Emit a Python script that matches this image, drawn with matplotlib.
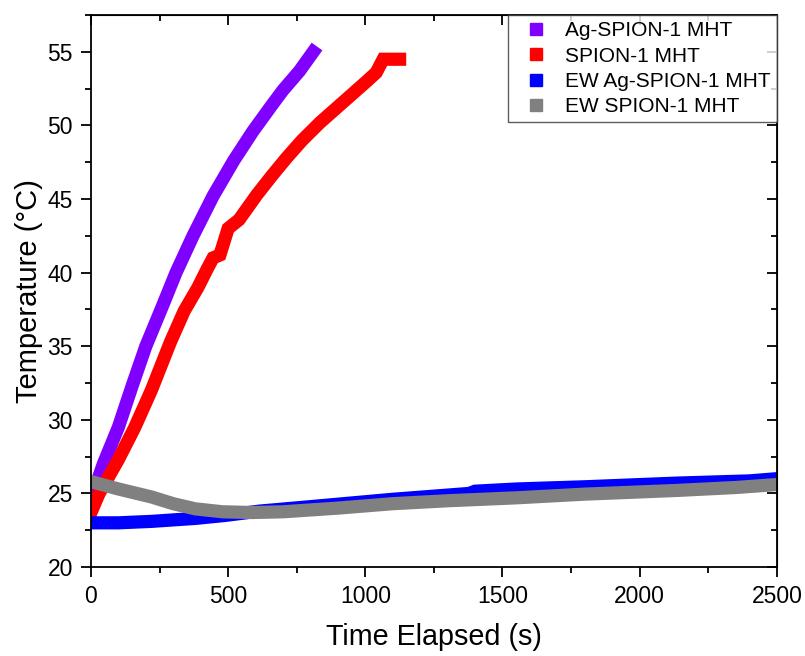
import matplotlib
matplotlib.use("Agg")
import matplotlib.pyplot as plt
from matplotlib.lines import Line2D
from matplotlib.ticker import MultipleLocator

plt.rcParams['font.family'] = ['Liberation Sans', 'DejaVu Sans']

# Heating curves (time in s, temperature in °C)
ag_t = [0, 45, 100, 150, 200, 260, 310, 372, 445, 520, 590, 660, 700, 760, 810]
ag_T = [24.6, 27.0, 29.5, 32.3, 35.0, 37.7, 40.0, 42.5, 45.2, 47.6, 49.6, 51.4, 52.4, 53.7, 55.0]

sp_t = [0, 30, 100, 160, 220, 290, 340, 390, 425, 445, 470, 500, 540, 605, 660,
        713, 770, 835, 920, 1005, 1040, 1065, 1125]
sp_T = [23.7, 25.0, 27.3, 29.5, 32.0, 35.3, 37.4, 39.0, 40.3, 41.0, 41.2, 43.0, 43.6,
        45.3, 46.6, 47.8, 49.0, 50.2, 51.6, 53.0, 53.6, 54.5, 54.5]

ew_ag_t = [0, 100, 222, 380, 488, 616, 800, 1100, 1380, 1400, 1552, 1800, 2135, 2400, 2500]
ew_ag_T = [23.0, 23.0, 23.1, 23.3, 23.5, 23.8, 24.1, 24.6, 25.0, 25.15, 25.3, 25.45, 25.7, 25.85, 26.0]

ew_sp_t = [0, 100, 222, 300, 380, 480, 587, 700, 900, 1100, 1300, 1552, 1800, 2135, 2350, 2500]
ew_sp_T = [25.8, 25.3, 24.75, 24.3, 23.95, 23.75, 23.7, 23.75, 24.0, 24.3, 24.5, 24.7,
           24.95, 25.2, 25.4, 25.6]

labels = ["Ag-SPION-1 MHT", "SPION-1 MHT", "EW Ag-SPION-1 MHT", "EW SPION-1 MHT"]
colors = ["#8000FF", "#FF0000", "#0000FF", "#808080"]

fig = plt.figure(figsize=(8.05, 6.56), dpi=100)
ax = fig.add_axes([0.113, 0.1357, 0.852, 0.8413])

series = [(ag_t, ag_T), (sp_t, sp_T), (ew_ag_t, ew_ag_T), (ew_sp_t, ew_sp_T)]
for (t, T), c in zip(series, colors):
    ax.plot(t, T, color=c, lw=9.5, solid_capstyle='projecting', solid_joinstyle='miter')

ax.set_xlim(0, 2500)
ax.set_ylim(20, 57.5)
ax.xaxis.set_major_locator(MultipleLocator(500))
ax.xaxis.set_minor_locator(MultipleLocator(250))
ax.yaxis.set_major_locator(MultipleLocator(5))
ax.yaxis.set_minor_locator(MultipleLocator(2.5))

for s in ax.spines.values():
    s.set_linewidth(1.3)

ax.tick_params(which='both', direction='out', width=1.3, labelsize=16.5,
               top=False, right=False, pad=6)
ax.tick_params(which='major', length=7)
ax.tick_params(which='minor', length=4)

# Inward ticks mirrored on the top and right axes
axt = ax.secondary_xaxis('top')
axt.xaxis.set_major_locator(MultipleLocator(500))
axt.xaxis.set_minor_locator(MultipleLocator(250))
axt.tick_params(which='both', direction='in', width=1.3, labeltop=False)
axt.tick_params(which='major', length=7)
axt.tick_params(which='minor', length=4)
axr = ax.secondary_yaxis('right')
axr.yaxis.set_major_locator(MultipleLocator(5))
axr.yaxis.set_minor_locator(MultipleLocator(2.5))
axr.tick_params(which='both', direction='in', width=1.3, labelright=False)
axr.tick_params(which='major', length=7)
axr.tick_params(which='minor', length=4)

ax.set_xlabel("Time Elapsed (s)", fontsize=20.7, labelpad=11)
ax.set_ylabel("Temperature (°C)", fontsize=21, labelpad=3)

handles = [Line2D([], [], ls='none', marker='s', ms=8.5, color=c, mec=c) for c in colors]
leg = ax.legend(handles, labels, loc='upper right', fontsize=15, frameon=True,
                fancybox=False, borderaxespad=0.0, borderpad=0.3,
                handlelength=2.1, handletextpad=0.35, labelspacing=0.3)
leg.get_frame().set_edgecolor('#333333')
leg.get_frame().set_linewidth(1.0)

fig.savefig("out.png", dpi=100)
